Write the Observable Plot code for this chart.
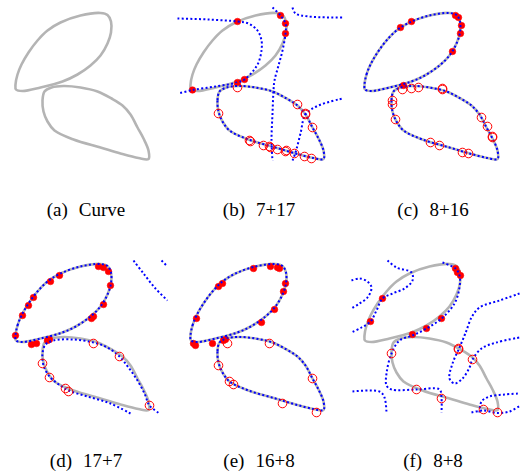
<!DOCTYPE html>
<html>
<head>
<meta charset="utf-8">
<script src="https://cdn.jsdelivr.net/npm/d3@7"></script>
<script src="https://cdn.jsdelivr.net/npm/@observablehq/plot@0.6"></script>
<style>
  html, body { margin: 0; padding: 0; background: #fff; }
  #fig { position: relative; width: 524px; height: 474px; }
  .panel { position: absolute; }
  .cap { position: absolute; width: 170px; text-align: center; font-family: 'Liberation Serif', 'Times New Roman', serif; font-size: 19px; line-height: 20px; color: #000; white-space: nowrap; }
  .cap .t { margin-left: 11px; }
</style>
</head>
<body>
<div id="fig"></div>
<script>
// ---- data (panel pixel units, y downward) ----
const upperLoop = [[15,84],[17,74],[21,64],[28,52],[37,40],[47,30],[60,22],[80,15],[100,12.5],[107,14.5],[110.5,21],[110.5,32],[107,43],[100,55],[90,65],[77,74],[62,81],[40,87],[22,90.5],[15.5,89]];
const lowerLoop = [[44,91],[42,100],[43,111],[47,121],[54,130],[73,139],[100,147],[120,153],[138,157.5],[148,158.5],[148,150],[143,138],[137,127],[130,114],[122,105],[111,98],[97,91],[80,87],[63,85.5],[51,87]];

// (b) 7+17
const bBlue1 = [[2,18],[33,19],[62,21],[73,23],[82,30],[86,40],[86,50],[83,62],[78,70],[69,79],[62,82],[40,86],[17,89.5],[3,93]];
const bBlue2 = [[97,7],[105,15],[110,23],[110,33],[107,50],[103,65],[99,80],[98,90],[97,113],[96,140],[97,160]];
const bBlue3 = [[117,7],[120,13],[133,16],[167,17]];
const bBlue4 = [[117,160],[120,152],[125,133],[130,114],[143,105],[167,98]];
const bDots = [[62,21],[105,15],[110,23],[110,33],[69,79],[62,82],[17,89.5]];
const bCircles = [[62,87],[43,113],[74,140],[75,141],[88,145],[94,146],[95,147],[102,149],[110,151],[111,150],[119,153],[129,156],[136,158],[122,104],[130,114],[130,113],[137,127]];

// (c) 8+16
const cDots = [[51,27],[62,21],[106,15],[109,17],[112,25],[111,33],[103,51],[54,85]];
const cCircles = [[53,89],[62,88],[69,87],[93,88],[93,89],[43,100],[43,104],[46,119],[81,142],[90,145],[113,152],[119,153],[132,117],[138,126],[143,137],[143,136]];

// (d) 17+7
const dBlueLower = [[130,162],[110,152],[87,145],[68,139],[57,132],[49,125],[43,114],[42,102],[45,93],[53,89],[73,88],[93,91],[107,96],[119,105],[128,116],[137,129],[144,142],[149,154],[159,162]];
const dBlue2 = [[133,9],[143,22],[155,37],[167,49]];
const dBlue3 = [[161,9],[167,15]];
const dDots = [[98,15],[103,16],[108,20],[110,34],[103,53],[93,65],[91,67],[59,24],[50,30],[33,46],[28,54],[22,64],[15,84],[31,93],[36,92],[47,89],[49,88]];
const dCircles = [[93,92],[119,105],[42,112],[49,126],[65,137],[68,140],[149,154]];

// (e) 16+8
const eDots = [[78,17],[95,15],[102,16],[104,17],[110,32],[108,40],[99,58],[86,71],[47,32],[43,35],[21,67],[18,92],[20,94],[37,92],[48,89],[50,88]];
const eCircles = [[52,92],[94,92],[43,114],[54,130],[58,133],[107,152],[137,127],[141,161]];

// (f) 8+8
const fBlue1 = [[2,29],[10,27],[18,30],[22,36],[18,46],[10,52],[2,57]];
const fBlue2 = [[38,9],[47,16],[62,21],[63,29],[55,37],[43,42],[33,47],[27,59],[21,70],[12,76],[2,81]];
const fBlue3 = [[93,11],[106,17],[110,24],[110,36],[105,52],[92,67],[77,77],[63,84],[50,89],[42,102],[37,122],[37,134],[42,138],[67,138],[90,138],[92,147],[92,161]];
const fBlue4 = [[3,140],[30,140],[35,146],[37,162]];
const fBlue5 = [[170,42],[150,49],[130,56],[122,66],[117,79],[115,84],[110,96],[103,112],[100,127],[105,132],[113,127],[120,116],[123,108],[132,97],[147,91],[170,86]];
const fBlue6 = [[130,161],[132,150],[140,145],[155,143],[170,142]];
const fBlue7 = [[122,161],[134,159],[148,161.5],[160,160],[171,154]];
const fDots = [[106,17],[108,21],[111,24],[33,47],[21,70],[92,67],[77,77],[63,83]];
const fCircles = [[42,102],[109,97],[109,98],[123,108],[67,138],[92,147],[134,158],[148,161]];

const labels = ["(a)","(b)","(c)","(d)","(e)","(f)"];
const titles = ["Curve","7+17","8+16","17+7","16+8","8+8"];

// ---- drawing ----
const GRAY = "#b4b4b4", BLUE = "#0000ff", RED = "#ff0000";
const W = 174, H = 172;
const colX = [0, 175, 349], rowY = [0, 251];
const capCX = [86, 259, 433], capCY = [210, 461];

function grayMarks() {
  return [upperLoop, lowerLoop].map(loop => Plot.line(loop, {x: d => d[0], y: d => d[1], curve: "catmull-rom-closed", stroke: GRAY, strokeWidth: 2.6}));
}
function blue(pts, closed) {
  return Plot.line(pts, {x: d => d[0], y: d => d[1], curve: closed ? "catmull-rom-closed" : "catmull-rom", stroke: BLUE, strokeWidth: 2, strokeDasharray: "2,2.3", strokeLinecap: "butt"});
}
function dots(pts) { return Plot.dot(pts, {x: d => d[0], y: d => d[1], r: 3.3, fill: RED, stroke: RED, strokeOpacity: 0.5, strokeWidth: 1}); }
function circles(pts) { return Plot.dot(pts, {x: d => d[0], y: d => d[1], r: 4.3, fill: "none", stroke: RED, strokeWidth: 1}); }

const panels = [
  {blues: [], d: [], c: []},
  {blues: [[bBlue1,false],[bBlue2,false],[bBlue3,false],[bBlue4,false],[lowerLoop,true]], d: bDots, c: bCircles},
  {blues: [[upperLoop,true],[lowerLoop,true]], d: cDots, c: cCircles},
  {blues: [[upperLoop,true],[dBlueLower,false],[dBlue2,false],[dBlue3,false]], d: dDots, c: dCircles},
  {blues: [[upperLoop,true],[lowerLoop,true]], d: eDots, c: eCircles},
  {blues: [[fBlue1,false],[fBlue2,false],[fBlue3,false],[fBlue4,false],[fBlue5,false],[fBlue6,false],[fBlue7,false]], d: fDots, c: fCircles}
];

const fig = document.getElementById("fig");
panels.forEach((p, i) => {
  const col = i % 3, row = Math.floor(i / 3);
  const marks = [...grayMarks()];
  if (p.d.length) marks.push(dots(p.d));
  p.blues.forEach(([pts, closed]) => marks.push(blue(pts, closed)));
  if (p.c.length) marks.push(circles(p.c));
  const svg = Plot.plot({
    width: W, height: H, margin: 0,
    x: {domain: [0, W], range: [0, W], axis: null},
    y: {domain: [0, H], range: [0, H], axis: null},
    style: {overflow: "visible", background: "transparent"},
    marks
  });
  const div = document.createElement("div");
  div.className = "panel";
  div.style.left = colX[col] + "px";
  div.style.top = rowY[row] + "px";
  div.appendChild(svg);
  fig.appendChild(div);

  const cap = document.createElement("div");
  cap.className = "cap";
  cap.style.left = (capCX[col] - 85) + "px";
  cap.style.top = (capCY[row] - 10) + "px";
  const a = document.createElement("span"); a.textContent = labels[i];
  const b = document.createElement("span"); b.className = "t"; b.textContent = titles[i];
  cap.appendChild(a); cap.appendChild(b);
  fig.appendChild(cap);
});
</script>
</body>
</html>
